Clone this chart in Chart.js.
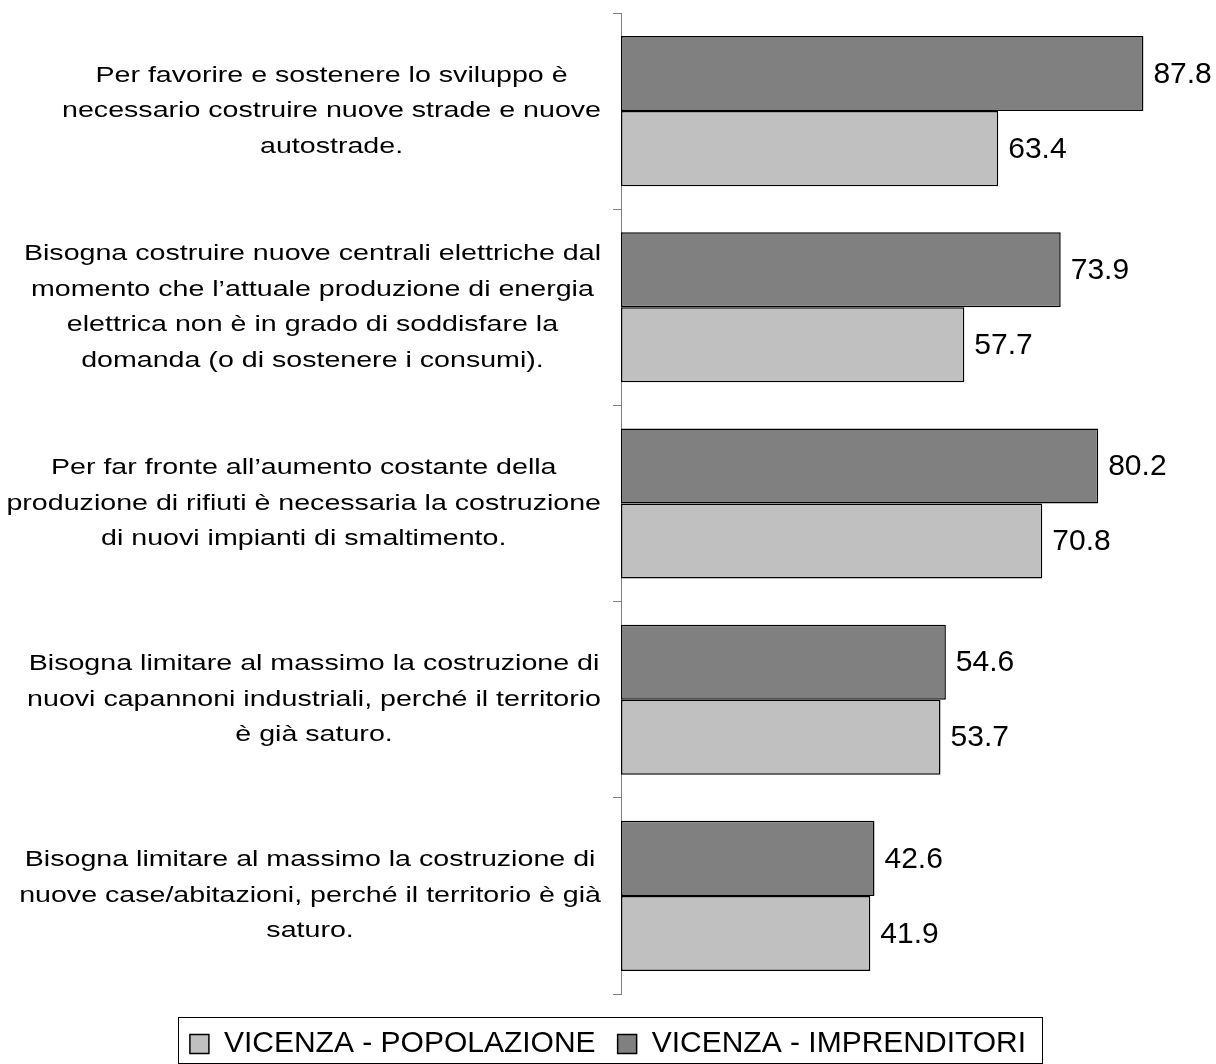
<!DOCTYPE html>
<html>
  <head>
    <meta charset="utf-8" />
    <title>Vicenza - infrastrutture</title>
    <style>
      body { margin: 0; background: #fff; }
      #wrap { width: 1216px; height: 1064px; }
    </style>
  </head>
  <body>
    <div id="wrap"><canvas id="myChart"></canvas></div>

    <script src="https://cdn.jsdelivr.net/npm/chart.js@4/dist/chart.umd.min.js"></script>
    <script>
      // categories, one array of lines per statement
      const categories = [
        ["Per favorire e sostenere lo sviluppo è", "necessario costruire nuove strade e nuove", "autostrade."],
        ["Bisogna costruire nuove centrali elettriche dal", "momento che l’attuale produzione di energia", "elettrica non è in grado di soddisfare la", "domanda (o di sostenere i consumi)."],
        ["Per far fronte all’aumento costante della", "produzione di rifiuti è necessaria la costruzione", "di nuovi impianti di smaltimento."],
        ["Bisogna limitare al massimo la costruzione di", "nuovi capannoni industriali, perché il territorio", "è già saturo."],
        ["Bisogna limitare al massimo la costruzione di", "nuove case/abitazioni, perché il territorio è già", "saturo."],
      ];
      const imprenditori = [87.8, 73.9, 80.2, 54.6, 42.6];
      const popolazione = [63.4, 57.7, 70.8, 53.7, 41.9];

      const FONT = '"Liberation Sans", Arial, sans-serif';

      // category labels: block right aligned, lines centered, text a bit wide
      const catLabels = {
        id: "catLabels",
        afterDraw(chart) {
          const ctx = chart.ctx;
          const yScale = chart.scales.y;
          const right = chart.chartArea.left - 20;
          const stretch = 1.3;
          const lh = 35.5;
          ctx.save();
          ctx.font = "22px " + FONT;
          ctx.fillStyle = "#000";
          ctx.textAlign = "center";
          ctx.textBaseline = "middle";
          categories.forEach((lines, i) => {
            let w = 0;
            lines.forEach((l) => { w = Math.max(w, ctx.measureText(l).width * stretch); });
            const cx = right - w / 2;
            const cy = yScale.getPixelForValue(i);
            lines.forEach((l, j) => {
              const y = cy + (j - (lines.length - 1) / 2) * lh;
              ctx.save();
              ctx.translate(cx, y);
              ctx.scale(stretch, 1);
              ctx.fillText(l, 0, 0);
              ctx.restore();
            });
          });
          ctx.restore();
        },
      };

      // values to the right of each bar
      const valueLabels = {
        id: "valueLabels",
        afterDatasetsDraw(chart) {
          const ctx = chart.ctx;
          ctx.save();
          ctx.font = "30px " + FONT;
          ctx.fillStyle = "#000";
          ctx.textAlign = "left";
          ctx.textBaseline = "middle";
          chart.data.datasets.forEach((ds, di) => {
            chart.getDatasetMeta(di).data.forEach((bar, i) => {
              ctx.fillText(ds.data[i].toFixed(1), bar.x + 10, bar.y + 1);
            });
          });
          ctx.restore();
        },
      };

      // frame around the legend
      const legendBox = {
        id: "legendBox",
        afterDraw(chart) {
          const boxes = chart.legend.legendHitBoxes;
          if (!boxes || !boxes.length) return;
          const first = boxes[0];
          const last = boxes[boxes.length - 1];
          const x1 = first.left - 12;
          const x2 = last.left + last.width + 16;
          const y1 = first.top - 12;
          const y2 = chart.height - 1;
          const ctx = chart.ctx;
          ctx.save();
          ctx.strokeStyle = "#000";
          ctx.lineWidth = 1;
          ctx.strokeRect(Math.round(x1) + 0.5, Math.round(y1) + 0.5, Math.round(x2 - x1), Math.round(y2 - y1));
          ctx.restore();
        },
      };

      const ctx = document.getElementById("myChart").getContext("2d");
      const myChart = new Chart(ctx, {
        type: "bar",
        data: {
          labels: categories.map((c) => c.join(" ")),
          datasets: [
            {
              label: "VICENZA - IMPRENDITORI",
              data: imprenditori,
              backgroundColor: "#808080",
              borderColor: "#000",
              borderWidth: 1.5,
              borderSkipped: false,
            },
            {
              label: "VICENZA - POPOLAZIONE",
              data: popolazione,
              backgroundColor: "#C0C0C0",
              borderColor: "#000",
              borderWidth: 1.5,
              borderSkipped: false,
            },
          ],
        },
        options: {
          indexAxis: "y",
          responsive: true,
          maintainAspectRatio: false,
          animation: false,
          categoryPercentage: 0.765,
          barPercentage: 1,
          layout: { padding: { top: 13, bottom: -5, left: 0, right: 0 } },
          scales: {
            x: {
              min: 0,
              max: 100,
              grid: { display: false },
              border: { display: false },
              ticks: { display: false },
              afterFit(scale) { scale.height = 13; },
            },
            y: {
              grid: { offset: true, drawOnChartArea: false, drawTicks: true, tickLength: 8, color: "#808080" },
              border: { color: "#808080", width: 1 },
              ticks: { display: false },
              afterFit(scale) { scale.width = 621; },
            },
          },
          plugins: {
            legend: {
              position: "bottom",
              reverse: true,
              labels: {
                font: { family: FONT, size: 30 },
                color: "#000",
                boxWidth: 19,
                boxHeight: 19,
                padding: 22,
              },
            },
            tooltip: { enabled: false },
          },
        },
        plugins: [catLabels, valueLabels, legendBox],
      });
    </script>
  </body>
</html>
